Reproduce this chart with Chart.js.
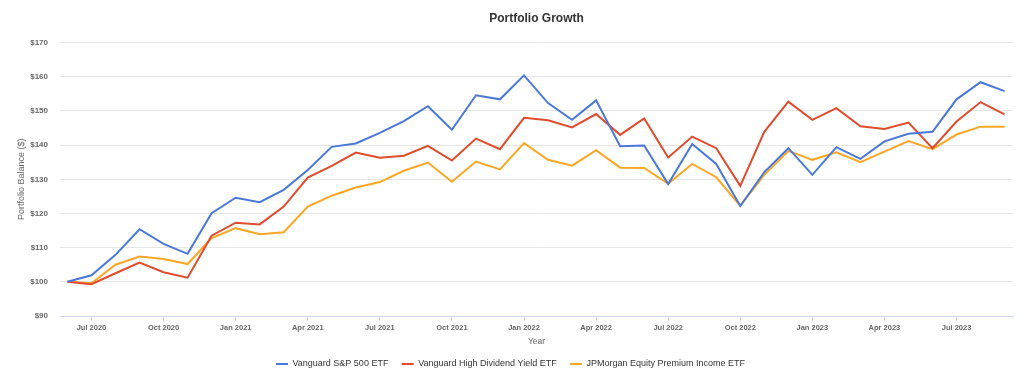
<!DOCTYPE html>
<html>
<head>
<meta charset="utf-8">
<script src="https://cdn.jsdelivr.net/npm/chart.js@4"></script>
<style>
  html, body { margin: 0; padding: 0; background: #fff; }
  #wrap { width: 1024px; height: 375px; }
</style>
</head>
<body>
<div id="wrap"><canvas id="myChart"></canvas></div>
<script>
// monthly balances, Jun 2020 .. Sep 2023, start = $100
const months = [
  "Jun 2020", "Jul 2020", "Aug 2020", "Sep 2020", "Oct 2020", "Nov 2020", "Dec 2020",
  "Jan 2021", "Feb 2021", "Mar 2021", "Apr 2021", "May 2021", "Jun 2021", "Jul 2021",
  "Aug 2021", "Sep 2021", "Oct 2021", "Nov 2021", "Dec 2021", "Jan 2022", "Feb 2022",
  "Mar 2022", "Apr 2022", "May 2022", "Jun 2022", "Jul 2022", "Aug 2022", "Sep 2022",
  "Oct 2022", "Nov 2022", "Dec 2022", "Jan 2023", "Feb 2023", "Mar 2023", "Apr 2023",
  "May 2023", "Jun 2023", "Jul 2023", "Aug 2023", "Sep 2023"
];

const tickLabels = [
  "Jul 2020", "Oct 2020", "Jan 2021", "Apr 2021", "Jul 2021", "Oct 2021", "Jan 2022",
  "Apr 2022", "Jul 2022", "Oct 2022", "Jan 2023", "Apr 2023", "Jul 2023"
];

const sp500 = [
  100, 101.9, 107.9, 115.4, 111.1, 108.2, 120.1, 124.6, 123.3, 126.9,
  132.7, 139.5, 140.5, 143.6, 147.0, 151.4, 144.5, 154.6, 153.4, 160.4,
  152.3, 147.4, 153.1, 139.7, 139.9, 128.6, 140.3, 134.5, 122.2, 132.1,
  139.1, 131.3, 139.4, 136.0, 141.1, 143.3, 143.9, 153.4, 158.4, 155.8
];

const highDiv = [
  100, 99.3, 102.5, 105.6, 102.8, 101.2, 113.5, 117.3, 116.8, 122.0,
  130.5, 133.9, 137.8, 136.3, 136.9, 139.8, 135.5, 141.9, 138.8, 148.0,
  147.3, 145.2, 149.1, 143.0, 147.8, 136.4, 142.5, 139.1, 128.1, 143.9,
  152.7, 147.4, 150.8, 145.5, 144.7, 146.6, 139.1, 146.9, 152.6, 149.0
];

const premIncome = [
  100, 99.6, 105.0, 107.4, 106.7, 105.2, 112.8, 115.7, 113.9, 114.5,
  122.0, 125.2, 127.6, 129.2, 132.5, 134.9, 129.3, 135.2, 132.9, 140.6,
  135.7, 134.0, 138.5, 133.4, 133.3, 128.7, 134.5, 130.6, 122.2, 131.3,
  138.3, 135.7, 137.9, 135.0, 138.1, 141.2, 138.8, 143.1, 145.4, 145.4
];

const seriesNames = [
  "Vanguard S&P 500 ETF",
  "Vanguard High Dividend Yield ETF",
  "JPMorgan Equity Premium Income ETF"
];
const seriesColors = ["#4a78d8", "#e04b2c", "#fca625"];

function toPoints(vals) {
  return vals.map((v, i) => ({ x: i, y: v }));
}

const datasets = [sp500, highDiv, premIncome].map((vals, k) => ({
  label: seriesNames[k],
  data: toPoints(vals),
  borderColor: seriesColors[k],
  backgroundColor: seriesColors[k],
  borderWidth: 2,
  pointRadius: 0,
  pointStyle: "line",
  tension: 0
}));

const tickIdx = tickLabels.map((t) => months.indexOf(t));

// nudge the legend a little right and down, like the original
const legendShift = {
  id: "legendShift",
  afterLayout(chart) {
    const lg = chart.legend;
    lg.left += 9;
    lg.right += 9;
    lg.top += 3.5;
    lg.bottom += 3.5;
  }
};

Chart.defaults.font.family = "'Liberation Sans', Arial, sans-serif";

const config = {
  type: "line",
  data: { datasets },
  plugins: [legendShift],
  options: {
    responsive: false,
    animation: false,
    layout: { padding: { left: 0, right: 11, top: 8, bottom: 0 } },
    plugins: {
      title: {
        display: true,
        fullSize: false,
        text: "Portfolio Growth",
        color: "#333",
        font: { size: 12, weight: "bold" },
        padding: { top: 3.8, bottom: 16.4 }
      },
      legend: {
        position: "bottom",
        labels: {
          color: "#333",
          font: { size: 9 },
          usePointStyle: true,
          pointStyleWidth: 12,
          boxHeight: 9,
          padding: 3.25,
          generateLabels: (chart) =>
            Chart.defaults.plugins.legend.labels.generateLabels(chart).map((l) => {
              l.text = l.text + "    ";
              return l;
            })
        }
      },
      tooltip: { enabled: false }
    },
    scales: {
      x: {
        type: "linear",
        min: -0.31,
        max: 39.35,
        afterBuildTicks: (scale) => {
          scale.ticks = tickIdx.map((v) => ({ value: v }));
        },
        afterFit: (scale) => { scale.height = 36.75; },
        ticks: {
          autoSkip: false,
          maxRotation: 0,
          padding: 2,
          color: "#666",
          font: { size: 7.5, weight: "bold" },
          callback: (v) => months[v]
        },
        grid: {
          drawOnChartArea: false,
          drawTicks: true,
          tickLength: 5,
          color: "#ccd6eb"
        },
        border: { color: "#ccd6eb", width: 1 },
        title: {
          display: true,
          text: "Year",
          color: "#666",
          font: { size: 8.5 },
          padding: { top: 2, bottom: 6 }
        }
      },
      y: {
        min: 90,
        max: 170,
        afterFit: (scale) => { scale.width = 60; },
        ticks: {
          stepSize: 10,
          padding: 12,
          color: "#666",
          font: { size: 8, weight: "bold" },
          callback: (v) => "$" + v
        },
        grid: { color: "#e6e6e6", drawTicks: false },
        border: { display: false },
        title: {
          display: true,
          text: "Portfolio Balance ($)",
          color: "#666",
          font: { size: 9 },
          padding: { top: 16.6, bottom: 0 }
        }
      }
    }
  }
};

const myChart = document.getElementById("myChart");
myChart.width = 1024;
myChart.height = 375;
new Chart(myChart, config);
</script>
</body>
</html>
